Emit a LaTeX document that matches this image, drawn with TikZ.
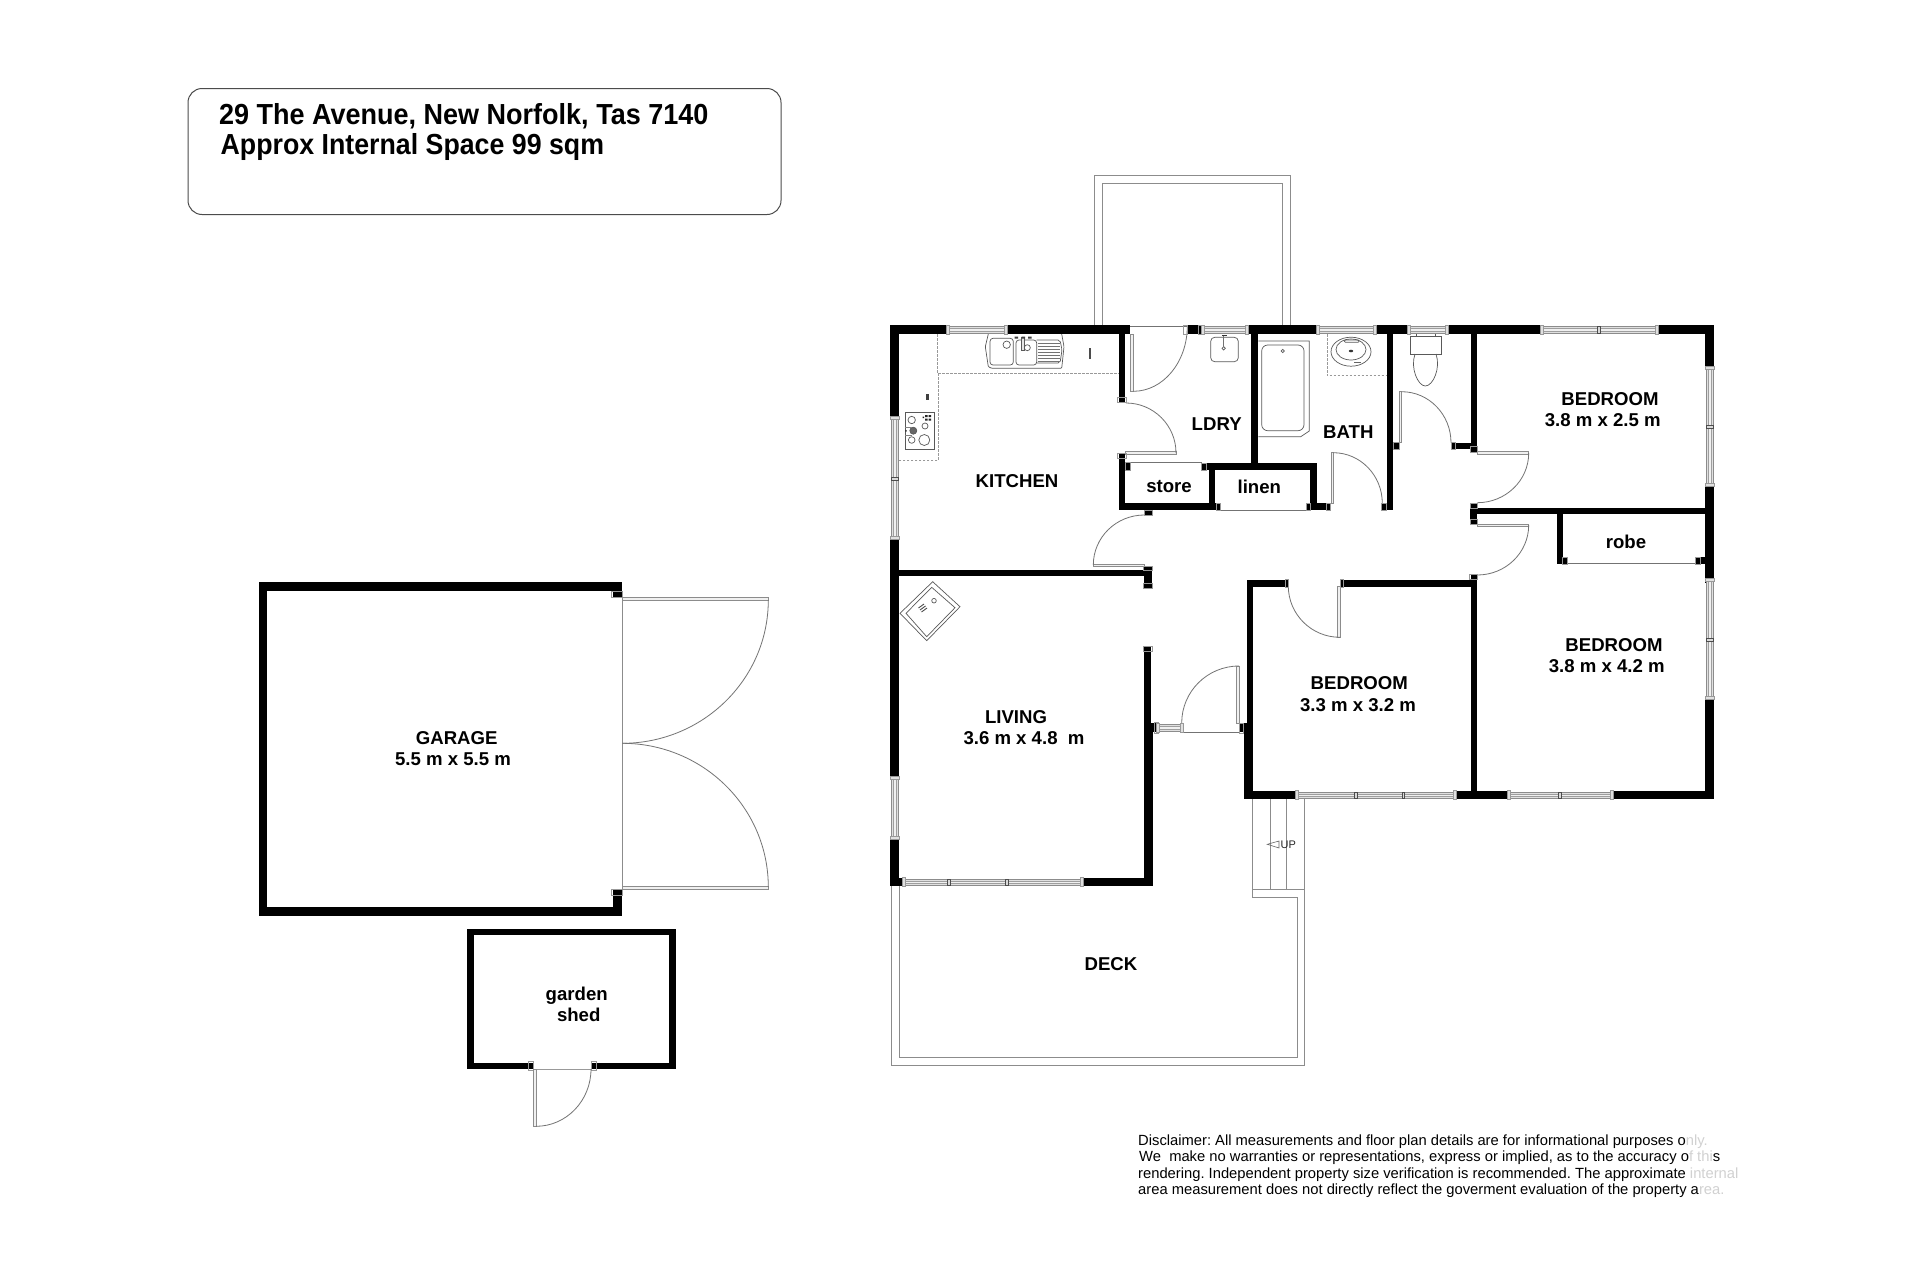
\documentclass[tikz,border=0pt]{standalone}
\usepackage{fontspec}
\setmainfont{Liberation Sans}
\usetikzlibrary{calc}
\definecolor{fade}{gray}{0.82}
\frenchspacing
\tikzset{
  lab/.style={anchor=base,inner sep=0pt,font=\fontsize{18.6}{20}\selectfont\bfseries},
  thin line/.style={draw=black!55,line width=0.8pt},
  lite line/.style={draw=black!45,line width=0.9pt},
  dash line/.style={draw=black!40,line width=0.9pt,dash pattern=on 2.5pt off 1.5pt},
  fixture/.style={draw=black!65,line width=0.7pt},
  jambbox/.style={draw=black!40,line width=0.7pt}
}
\newcommand{\wall}[4]{\fill[black] (#1,#2) rectangle (#3,#4);}
\newcommand{\leaf}[4]{\draw[lite line,fill=black!6] (#1,#2) rectangle (#3,#4);}
\newcommand{\jamb}[4]{\draw[jambbox] (#1,#2) rectangle (#3,#4);}
\newcommand{\hwin}[4]{% x1 x2 y1 y2
  \draw[lite line,fill=black!12] (#1,#3) rectangle (#2,#4);
  \draw[draw=black!38,line width=0.6pt,fill=black!6] (#1,{(#3+#4)/2-1.3}) rectangle (#2,{(#3+#4)/2+1.3});
  \draw[jambbox,fill=black!12] ({#1-1.5},{#3-1.2}) rectangle ({#1+1.5},{#4+1.2});
  \draw[jambbox,fill=black!12] ({#2-1.5},{#3-1.2}) rectangle ({#2+1.5},{#4+1.2});}
\newcommand{\vwin}[4]{% x1 x2 y1 y2
  \draw[lite line,fill=black!12] (#1,#3) rectangle (#2,#4);
  \draw[draw=black!38,line width=0.6pt,fill=black!6] ({(#1+#2)/2-1.3},#3) rectangle ({(#1+#2)/2+1.3},#4);
  \draw[jambbox,fill=black!12] ({#1-1.2},{#3-1.5}) rectangle ({#2+1.2},{#3+1.5});
  \draw[jambbox,fill=black!12] ({#1-1.2},{#4-1.5}) rectangle ({#2+1.2},{#4+1.5});}
\newcommand{\hdiv}[3]{\draw[draw=black!70,line width=0.7pt,fill=black!15] ({#1-1.2},#2) rectangle ({#1+1.2},#3);}
\newcommand{\vdiv}[3]{\draw[draw=black!70,line width=0.7pt,fill=black!15] (#2,{#1-1.2}) rectangle (#3,{#1+1.2});}
% quarter ellipse: start, corner, end
\newcommand{\swing}[6]{\draw[thin line] (#1,#2) .. controls ($(#1,#2)!0.5523!(#3,#4)$) and ($(#5,#6)!0.5523!(#3,#4)$) .. (#5,#6);}
\begin{document}
\begin{tikzpicture}[x=1pt,y=-1pt]
\useasboundingbox (0,0) rectangle (1920,1280);
\fill[white] (0,0) rectangle (1920,1280);

% ---------- title box
\draw[draw=black!70,line width=1pt,rounded corners=14pt] (188,88.5) rectangle (781,214.5);
\node[anchor=base west,inner sep=0pt,xscale=0.931,transform shape,font=\fontsize{29}{30}\selectfont\bfseries] (title1) at (219,124.3) {29 The Avenue, New Norfolk, Tas 7140};
\node[anchor=base west,inner sep=0pt,xscale=0.922,transform shape,font=\fontsize{29}{30}\selectfont\bfseries] (title2) at (220.5,154) {Approx Internal Space 99 sqm};

% ---------- top porch
\draw[lite line] (1094.3,325) -- (1094.3,175.7) -- (1290.3,175.7) -- (1290.3,325);
\draw[lite line] (1102.3,325) -- (1102.3,183.7) -- (1282.3,183.7) -- (1282.3,325);

% ---------- deck and steps
\draw[lite line] (891,886) -- (891,1065.7) -- (1304.3,1065.7) -- (1304.3,889) -- (1252.3,889) -- (1252.3,897.3) -- (1297,897.3) -- (1297,1057.7) -- (899.3,1057.7) -- (899.3,886);
\draw[lite line] (1252.7,799) -- (1252.7,889);
\draw[lite line] (1270,799) -- (1270,889);
\draw[lite line] (1286.7,799) -- (1286.7,889);
\draw[lite line] (1304.3,799) -- (1304.3,889);
\draw[draw=black!60,line width=0.6pt] (1267.3,844.3) -- (1279,841) -- (1279,848) -- cycle;
\node[anchor=base west,inner sep=0pt,font=\fontsize{11}{12}\selectfont,text=black!85] (up) at (1280.5,848.2) {UP};

% ---------- kitchen counter
\draw[dash line] (937.3,334) -- (937.3,373.3) -- (1118.7,373.3);
\draw[dash line] (938.7,373.3) -- (938.7,460) -- (898.7,460);

% sink
\draw[fixture,rounded corners=1pt] (988.3,334) -- (985.3,346.7) -- (988.3,366.7) -- (991.7,368.3) -- (1061.7,368.3) -- (1064,346.7) -- (1061.7,334);
\draw[fixture,rounded corners=3pt] (990,338.3) rectangle (1013.3,365);
\draw[fixture] (1006.7,344.7) circle[radius=3.7];
\draw[fixture,rounded corners=3pt] (1016,340) rectangle (1036.7,365);
\draw[fixture] (1027.3,347.7) circle[radius=3];
\draw[fixture,rounded corners=2pt] (1036.7,340) -- (1060,340) -- (1062,350) -- (1060,363) -- (1036.7,363);
\foreach \y in {343,346,349,352,355,358,361} \draw[draw=black!55,line width=0.5pt] (1038,\y) -- (1060,\y);
\draw[fixture,fill=black!10] (1021.7,337) rectangle (1024.5,350);
\fill[black!75] (1014.5,336.5) rectangle (1018,338.5) (1021.5,336.5) rectangle (1025,338.5) (1028,336.5) rectangle (1031.5,338.5);
% appliance marks
\fill[black!70] (1088.7,348.3) rectangle (1091.3,359.3);
\fill[black!75] (926,394.3) rectangle (928.7,400);
% cooktop
\draw[fixture] (905,412.3) rectangle (934,449);
\draw[fixture] (911.7,420) circle[radius=3.7];
\draw[fixture] (925,426) circle[radius=3];
\draw[fixture,fill=black!60] (913.3,430.7) circle[radius=3.5];
\draw[fixture] (911.7,440) circle[radius=3.3];
\draw[fixture] (924.3,440) circle[radius=5.5];
\draw[draw=black!50,line width=0.5pt] (905,427) -- (912,427) (905,435) -- (912,435);
\fill[black!85] (922.5,416.5) rectangle (924,418) (925,415) rectangle (927.5,417) (928.5,415) rectangle (931,417) (925,418.5) rectangle (927.5,420.5) (928.5,418.5) rectangle (931,420.5) (905.3,430) rectangle (906.5,431.5);

% ---------- laundry basin
\draw[fixture,rounded corners=4pt] (1210.7,337.3) rectangle (1238.3,361.7);
\draw[fixture] (1223.7,348.3) circle[radius=1.7];
\draw[draw=black!55,line width=0.6pt] (1223.7,335.5) -- (1223.7,346.5);
\fill[black!80] (1221.5,334.5) rectangle (1226.5,336);

% ---------- bath
\draw[fixture] (1258.3,341) -- (1309.3,341) -- (1309.3,431) -- (1300.7,436.7) -- (1258.3,436.7);
\draw[fixture,rounded corners=6pt] (1261.7,345) rectangle (1304,430.7);
\draw[fixture] (1282.7,351) circle[radius=1.6];

% ---------- vanity
\draw[dash line] (1327.3,334) -- (1327.3,375.7) -- (1386.7,375.7);
\draw[fixture] (1351,351.7) ellipse[x radius=20,y radius=14.5];
\draw[fixture] (1351,349.5) ellipse[x radius=15,y radius=10.5];
\draw[fixture,rounded corners=1pt] (1344.3,340) rectangle (1359,342.3);
\fill[black!80] (1351,351) ellipse[x radius=2.2,y radius=1.3];
\fill[black!60] (1354,361.5) rectangle (1361,363);

% ---------- WC
\draw[fixture] (1416.7,333.5) rectangle (1435,336.7);
\draw[fixture,fill=white] (1410,336.7) rectangle (1441.7,354);
\draw[fixture] (1415,354) .. controls (1410,368) and (1418,386) .. (1425.3,386) .. controls (1433,386) and (1441,368) .. (1436,354);

% ---------- living fixture
\draw[fixture] (932.7,581.7) -- (960,606.7) -- (926.7,640.7) -- (900,613.3) -- cycle;
\draw[fixture] (931.7,587.3) -- (955,607.7) -- (926.7,636.7) -- (906,613.3) -- cycle;
\draw[fixture] (934,600.7) circle[radius=2.3];
\draw[draw=black!70,line width=0.9pt] (918.5,608) -- (924,604) (920,610) -- (925.5,606) (921.5,612) -- (927,608);

% ---------- door leaves and thresholds
\leaf{1130}{334}{1133.3}{391.3}
\draw[thin line] (1130,326) -- (1187.3,326);
\swing{1133.3}{391.3}{1187.3}{391.3}{1187.3}{326}
\leaf{1125}{451.7}{1176}{454}
\swing{1126}{403}{1176}{403}{1176}{453}
\leaf{1093.3}{564}{1144.3}{566.7}
\swing{1144.3}{515}{1093.3}{515}{1093.3}{565}
\leaf{1331}{452.7}{1333.3}{503.3}
\swing{1333.3}{452.7}{1382.3}{452.7}{1382.3}{503.3}
\leaf{1399.3}{391.7}{1401.7}{442.7}
\swing{1401.7}{391.7}{1451}{391.7}{1451}{442.7}
\leaf{1477.3}{451.7}{1528.7}{454}
\swing{1528.7}{453}{1528.7}{502.7}{1477.3}{502.7}
\leaf{1477.3}{524}{1528.7}{526.7}
\swing{1528.7}{525}{1528.7}{575}{1477.3}{575}
\leaf{1337.3}{586}{1340}{637.3}
\swing{1288.3}{586}{1288.3}{637.3}{1340}{637.3}
\leaf{1236.3}{666}{1239.7}{723}
\swing{1239}{666}{1181.7}{666}{1181.7}{723}
\draw[thin line] (1181.7,732) -- (1239.3,732);
\draw[thin line] (1130,462.3) -- (1201.7,462.3);
\draw[thin line] (1220,510.3) -- (1306,510.3);
\draw[thin line] (1567.7,563.3) -- (1695.7,563.3);

% ---------- main walls
\wall{890.3}{325.3}{948.3}{334}
\wall{1006}{325.3}{1130}{334}
\wall{1187.3}{325.3}{1202.7}{334}
\wall{1246.7}{325.3}{1318.3}{334}
\wall{1375}{325.3}{1409.3}{334}
\wall{1446.7}{325.3}{1541.7}{334}
\wall{1656.7}{325.3}{1714}{334}
\wall{1705.3}{325.3}{1714}{368.3}
\wall{1705.3}{485}{1714}{583.3}
\wall{1705.3}{698.3}{1714}{799.3}
\wall{1244.3}{790.7}{1297.3}{799.3}
\wall{1455}{790.7}{1509.3}{799.3}
\wall{1611.7}{790.7}{1714}{799.3}
\wall{890.3}{325.3}{898.7}{418.3}
\wall{890.3}{538.3}{898.7}{778.3}
\wall{890.3}{838.3}{898.7}{886}
\wall{898.7}{570}{1145}{576}
\wall{1144.3}{566}{1151.7}{588.3}
\wall{1144.3}{646}{1151}{723}
\wall{1144.3}{723}{1153}{886}
\wall{1153}{723.3}{1158.3}{732.3}
\wall{1081.7}{878.3}{1153}{886}
\wall{898.7}{878.3}{904}{886}
\wall{1118.7}{334}{1125}{401.7}
\wall{1251.3}{334}{1258.3}{465}
\wall{1201.7}{463.3}{1316.7}{470}
\wall{1209.3}{470}{1215}{503.3}
\wall{1310.3}{463.3}{1316.7}{510}
\wall{1118.7}{503.3}{1220}{510.3}
\wall{1306}{503.3}{1330.7}{510.3}
\wall{1118.7}{454}{1125}{510}
\wall{1125}{462.7}{1130}{470.7}
\wall{1144.3}{510}{1151.7}{515}
\wall{1386.7}{334}{1393.3}{510}
\wall{1393.3}{442.7}{1399.3}{449.3}
\wall{1381.7}{503.3}{1393.3}{510}
\wall{1451}{442.7}{1477.3}{449.3}
\wall{1471}{334}{1477.3}{451.7}
\wall{1470}{507.7}{1705.3}{514.3}
\wall{1470}{502.7}{1477.3}{524}
\wall{1556.7}{514.3}{1562.7}{564}
\wall{1562.7}{557.3}{1567.7}{564}
\wall{1695.7}{557.3}{1705.3}{564}
\wall{1246.7}{580}{1288.3}{586.7}
\wall{1340}{580}{1470.7}{586.7}
\wall{1470.7}{575}{1477.3}{799.3}
\wall{1246.7}{580}{1253.3}{723}
\wall{1244.3}{723}{1253.3}{799.3}
\wall{1239.3}{723.3}{1246.7}{732.3}

% jamb outlines at wall ends
\jamb{1117.7}{397.5}{1126}{402.5}
\jamb{1117.7}{453}{1126}{458}
\jamb{1125}{462.7}{1130}{470.7}
\jamb{1201.7}{463}{1206}{470}
\jamb{1216}{503.5}{1220}{510.5}
\jamb{1306}{503.5}{1310}{510.5}
\jamb{1326}{503.5}{1330.7}{510.5}
\jamb{1144}{510}{1152}{515}
\jamb{1143.8}{566}{1152}{570.5}
\jamb{1143.8}{583.5}{1152}{588.5}
\jamb{1143.8}{646}{1152}{651}
\jamb{1154}{722.5}{1158.3}{733}
\jamb{1239.3}{723}{1243.5}{733}
\jamb{1288.3}{579}{1285}{587}
\jamb{1340}{579}{1343.5}{587}
\jamb{1469.5}{574.5}{1477.8}{579}
\jamb{1470}{503}{1477.5}{508}
\jamb{1470}{519.5}{1477.5}{524}
\jamb{1470.5}{446.5}{1477.8}{452}
\jamb{1381.7}{503.5}{1386.7}{510.5}
\jamb{1393.3}{442.5}{1399.3}{449.5}
\jamb{1451}{442.5}{1455}{449.5}
\jamb{1562.7}{557}{1567.7}{564.5}
\jamb{1695.7}{557}{1700}{564.5}
\jamb{1183.5}{325}{1187.3}{334}
\jamb{1198.5}{325}{1202.7}{334}

% ---------- windows
\hwin{948.3}{1006}{326.5}{333}
\hwin{1202.7}{1246.7}{326.5}{333}
\hwin{1318.3}{1375}{326.5}{333}
\hwin{1409.3}{1446.7}{326.5}{333}
\hwin{1541.7}{1656.7}{326.5}{333}
\hdiv{1599}{326.5}{333}
\vwin{891.5}{898}{418.3}{538.3}
\vdiv{479}{891.5}{898}
\vwin{891.5}{898}{778.3}{838.3}
\vwin{1706.5}{1713}{368.3}{485}
\vdiv{426.7}{1706.5}{1713}
\vwin{1706.5}{1713}{580}{698.3}
\vdiv{640}{1706.5}{1713}
\hwin{904}{1081.7}{879}{885.5}
\hdiv{949}{879}{885.5}
\hdiv{1007}{879}{885.5}
\hwin{1297.3}{1455}{792}{798.5}
\hdiv{1355.7}{792}{798.5}
\hdiv{1403.3}{792}{798.5}
\hwin{1509.3}{1611.7}{792}{798.5}
\hdiv{1560}{792}{798.5}
\hwin{1158.3}{1181.7}{724.5}{731.5}

% ---------- garage
\wall{258.7}{581.7}{622.3}{590.5}
\wall{258.7}{581.7}{267.3}{916}
\wall{258.7}{907.3}{622.3}{916}
\wall{613.3}{581.7}{622.3}{597.3}
\wall{613.3}{889}{622.3}{916}
\jamb{611.8}{591}{622.3}{597.3}
\jamb{611.8}{889}{622.3}{895}
\draw[lite line] (622.3,597.3) -- (622.3,889);
\leaf{622.3}{597.7}{768.3}{600.7}
\leaf{622.3}{886}{768.3}{889}
\swing{768.3}{600}{768.3}{743.3}{622.3}{743.3}
\swing{768.3}{887}{768.3}{743.3}{622.3}{743.3}

% ---------- garden shed
\wall{467.3}{929.3}{675.7}{935.3}
\wall{467.3}{929.3}{473.6}{1068.7}
\wall{669}{929.3}{675.7}{1068.7}
\wall{467.3}{1062.7}{533.3}{1068.7}
\wall{591}{1062.7}{675.7}{1068.7}
\jamb{528.5}{1061}{533.3}{1070.5}
\jamb{591}{1061}{596.5}{1070.5}
\draw[draw=black!40,line width=1pt] (533.3,1069) -- (591,1069);
\leaf{533.3}{1069}{536}{1126.3}
\swing{536}{1126.3}{591}{1126.3}{591}{1069}

% ---------- labels
\node[lab] (kitchen) at (1017,487.7) {KITCHEN};
\node[lab] (ldry) at (1216.7,430) {LDRY};
\node[lab] (store) at (1169,492.3) {store};
\node[lab] (linen) at (1259.3,493) {linen};
\node[lab] (bath) at (1348.3,438) {BATH};
\node[lab] (bed1) at (1610,405) {BEDROOM};
\node[lab] (bed1d) at (1602.7,426.3) {3.8 m x 2.5 m};
\node[lab] (robe) at (1626,548.7) {robe};
\node[lab] (living) at (1016,723) {LIVING};
\node[lab] (livingd) at (1024,744.2) {3.6 m x 4.8 \ m};
\node[lab] (bed2) at (1359.3,689.5) {BEDROOM};
\node[lab] (bed2d) at (1358,711) {3.3 m x 3.2 m};
\node[lab] (bed3) at (1614,651) {BEDROOM};
\node[lab] (bed3d) at (1606.7,672.7) {3.8 m x 4.2 m};
\node[lab] (deck) at (1111,970) {DECK};
\node[lab] (garage) at (456.7,744.5) {GARAGE};
\node[lab] (garaged) at (453,765) {5.5 m x 5.5 m};
\node[lab] (garden) at (576.7,1000) {garden};
\node[lab] (shed) at (578.7,1021) {shed};

% ---------- disclaimer
\tikzset{disc/.style={anchor=base west,inner sep=0pt,font=\fontsize{14.75}{16}\selectfont}}
\node[disc] (d1) at (1138,1145) {Disclaimer: All measurements and floor plan details are for informational purposes o\textcolor{fade}{nly.}};
\node[disc] (d2) at (1139,1161.5) {We \ make no warranties or representations, express or implied, as to the accuracy o\textcolor{fade}{f th}\textcolor{fade}{i}s};
\node[disc] (d3) at (1138,1178) {rendering. Independent property size verification is recommended. The approximate \textcolor{fade}{internal}};
\node[disc] (d4) at (1138,1194) {area measurement does not directly reflect the goverment evaluation of the property a\textcolor{fade}{rea.}};
\end{tikzpicture}
\end{document}
